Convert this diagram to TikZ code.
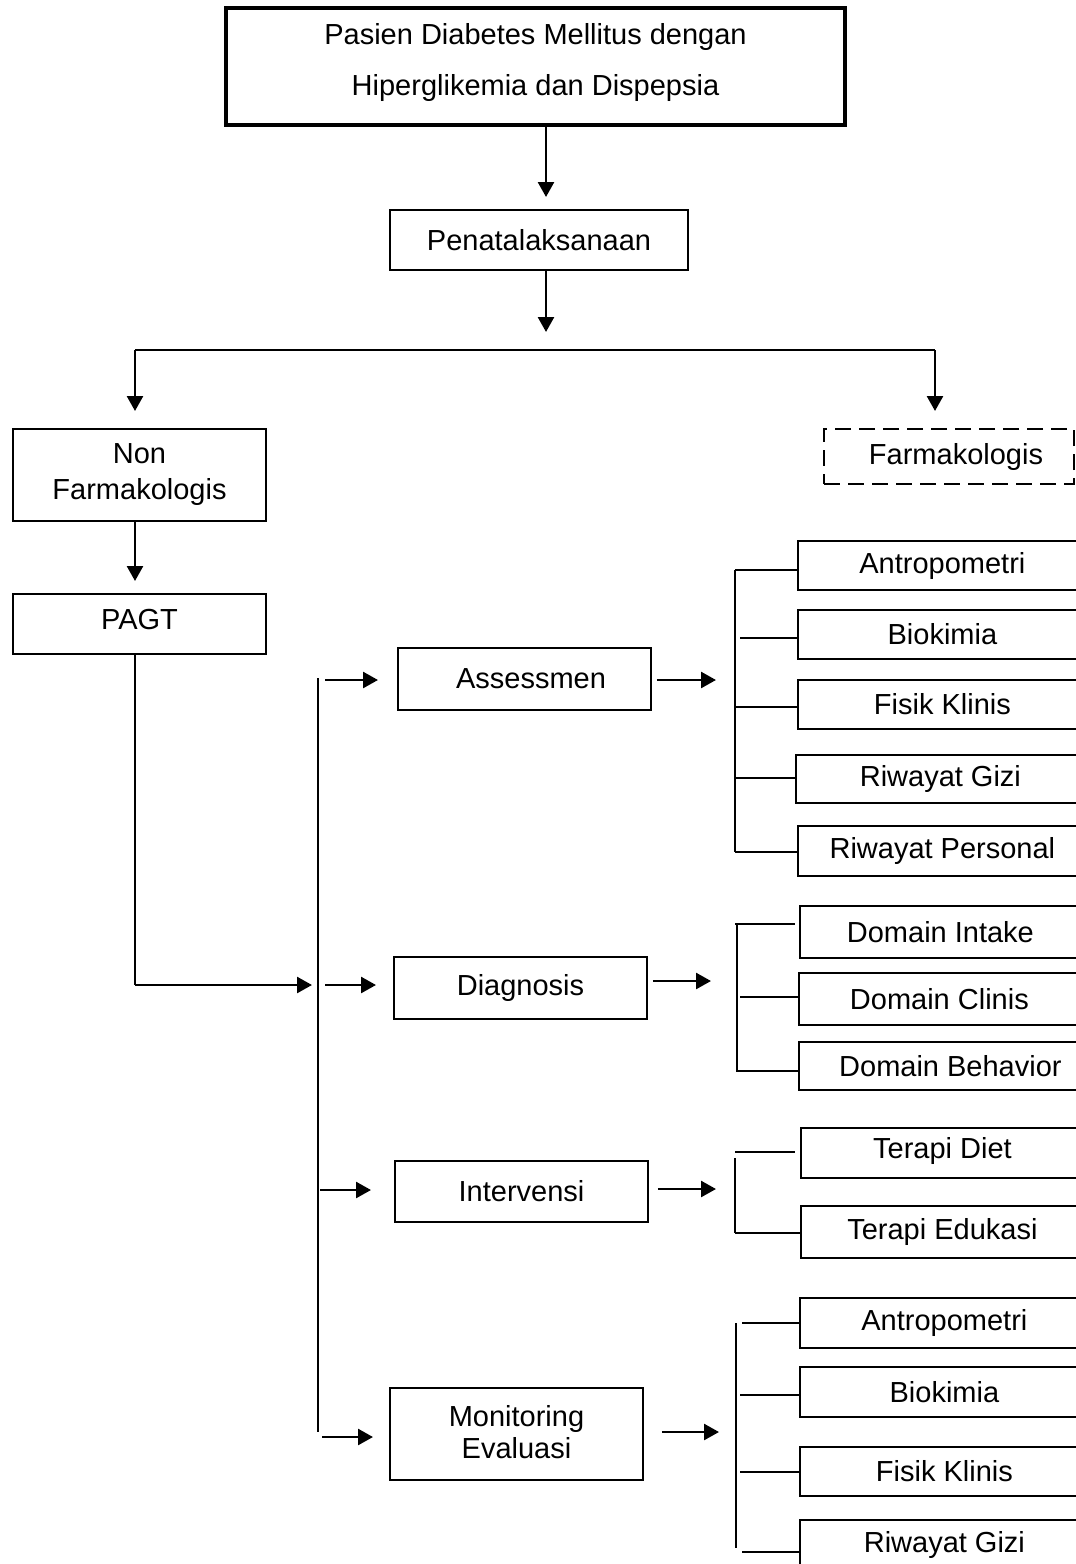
\documentclass[tikz,border=0pt]{standalone}
\usepackage{fontspec}
\setmainfont{Liberation Sans}
\usetikzlibrary{arrows.meta}
\begin{document}
\begin{tikzpicture}[x=1pt,y=-1pt,
  txt/.style={font=\fontsize{29}{35}\selectfont},
  box/.style={txt,draw,line width=1.8pt,inner sep=0pt,align=center},
  rbox/.style={box,minimum width=289pt,anchor=west},
  arr/.style={line width=2.6pt,-{Triangle[length=15pt,width=16pt]}},
  ln/.style={line width=1.8pt}]
\useasboundingbox (0,0) rectangle (1076,1564);
\clip (0,0) rectangle (1076,1564);
% main column
\node[box,line width=4pt,minimum width=619pt,minimum height=117pt] (top) at (535.5,66.5)
  {Pasien Diabetes Mellitus dengan\\[16pt]Hiperglikemia dan Dispepsia\\[-21pt]\mbox{}};
\node[box,minimum width=298pt,minimum height=60pt] (pen) at (539,240) {Penatalaksanaan};
\node[box,minimum width=253pt,minimum height=92pt] (nonf) at (139.5,475) {Non\\[1pt]Farmakologis};
\node[box,dashed,dash pattern=on 16pt off 8pt,line width=2.6pt,minimum width=250pt,minimum height=55pt] (farm) at (949,456.5) {\hspace*{14pt}Farmakologis};
\node[box,minimum width=253pt,minimum height=60pt] (pagt) at (139.5,624) {PAGT\\[-25pt]\mbox{}};
\node[box,minimum width=253pt,minimum height=62pt] (ass) at (524.5,679) {\hspace*{13pt}Assessmen};
\node[box,minimum width=253pt,minimum height=62pt] (diag) at (520.5,988) {Diagnosis};
\node[box,minimum width=253pt,minimum height=61pt] (int) at (521.5,1191.5) {Intervensi};
\node[box,minimum width=253pt,minimum height=92pt] (mon) at (516.5,1434) {Monitoring\\[-3pt]Evaluasi\\[-31pt]\mbox{}};
% right boxes
\node[rbox,minimum height=49pt] (a1) at (797,565.5) {Antropometri};
\node[rbox,minimum height=49pt] (a2) at (797,634.5) {Biokimia};
\node[rbox,minimum height=49pt] (a3) at (797,704.5) {Fisik Klinis};
\node[rbox,minimum height=48pt] (a4) at (795,779) {Riwayat Gizi};
\node[rbox,minimum height=50pt] (a5) at (797,851) {Riwayat Personal};
\node[rbox,minimum height=52pt] (d1) at (799,932) {\hspace*{-8pt}Domain Intake};
\node[rbox,minimum height=52pt] (d2) at (798,999) {\hspace*{-8pt}Domain Clinis};
\node[rbox,minimum height=48pt] (d3) at (798,1066) {\hspace*{14pt}Domain Behavior};
\node[rbox,minimum height=50pt] (t1) at (800,1153) {\hspace*{-6pt}Terapi Diet\\[-25pt]\mbox{}};
\node[rbox,minimum height=52pt] (t2) at (800,1232) {\hspace*{-6pt}Terapi Edukasi};
\node[rbox,minimum height=50pt] (m1) at (799,1323) {Antropometri};
\node[rbox,minimum height=50pt] (m2) at (799,1392) {Biokimia};
\node[rbox,minimum height=49pt] (m3) at (799,1471.5) {Fisik Klinis};
\node[rbox,minimum height=50pt] (m4) at (799,1545) {Riwayat Gizi};
% coordinates
\coordinate (c1) at (546,197);
\coordinate (c2) at (546,332);
\coordinate (bl) at (135,350);
\coordinate (br) at (935,350);
\coordinate (blt) at (135,411);
\coordinate (brt) at (935,411);
\coordinate (pt) at (135,581);
\coordinate (pc) at (135,985);
\coordinate (pe) at (312,985);
\coordinate (vt) at (318,678);
\coordinate (vb) at (318,1432);
% top connectors
\draw[arr] (top.south -| c1) -- (c1);
\draw[arr] (pen.south -| c2) -- (c2);
\draw[line width=2.4pt] (bl) -- (br);
\draw[arr] (bl) -- (blt);
\draw[arr] (br) -- (brt);
\draw[arr] (nonf.south -| pt) -- (pt);
\draw[ln] (pagt.south -| pc) -- (pc);
\draw[arr] (pc) -- (pe);
\draw[ln] (vt) -- (vb);
% arrows to middle boxes
\draw[arr] (325,680) -- (378,680);
\draw[arr] (325,985) -- (376,985);
\draw[arr] (320,1190) -- (371,1190);
\draw[arr] (322,1437) -- (373,1437);
% arrows from middle boxes
\draw[arr] (ass.east |- 0,680) ++(5,0) -- (716,680);
\draw[arr] (diag.east |- 0,981) ++(5,0) -- (711,981);
\draw[arr] (int.east |- 0,1189) ++(9,0) -- (716,1189);
\draw[arr] (mon.east |- 0,1432) ++(18,0) -- (719,1432);
% group 1
\draw[ln] (735,570) -- (735,852);
\draw[ln] (735,570) -- (a1.west |- 0,570);
\draw[ln] (740,638) -- (a2.west |- 0,638);
\draw[ln] (735,707) -- (a3.west |- 0,707);
\draw[ln] (735,778) -- (a4.west |- 0,778);
\draw[ln] (735,852) -- (a5.west |- 0,852);
% group 2
\draw[ln] (737,924) -- (737,1072);
\draw[ln] (735,924) -- (795,924);
\draw[ln] (740,997) -- (d2.west |- 0,997);
\draw[ln] (737,1071) -- (d3.west |- 0,1071);
% group 3
\draw[ln] (735,1152) -- (795,1152);
\draw[ln] (735,1158) -- (735,1233);
\draw[ln] (735,1233) -- (t2.west |- 0,1233);
% group 4
\draw[ln] (736,1323) -- (736,1548);
\draw[ln] (742,1323) -- (m1.west |- 0,1323);
\draw[ln] (740,1395) -- (m2.west |- 0,1395);
\draw[ln] (740,1472) -- (m3.west |- 0,1472);
\draw[ln] (742,1552) -- (m4.west |- 0,1552);
\end{tikzpicture}
\end{document}
